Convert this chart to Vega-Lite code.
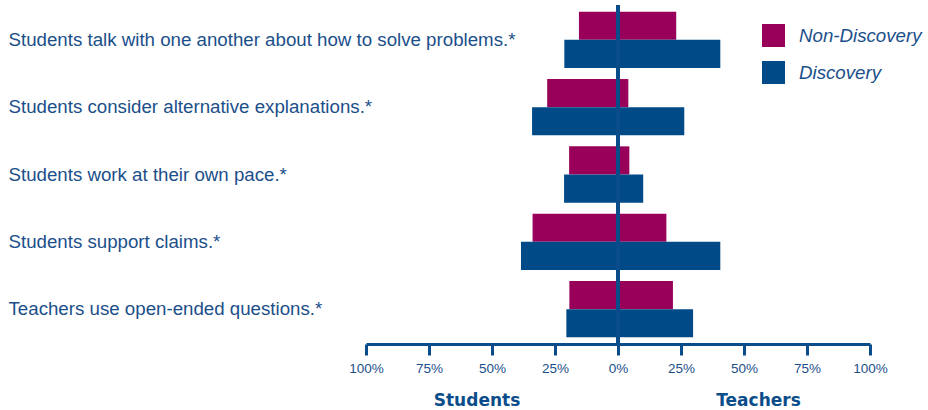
{
  "$schema": "https://vega.github.io/schema/vega-lite/v6.json",
  "width": 504,
  "height": 339,
  "autosize": {"type": "none"},
  "padding": {"left": 366, "top": 5, "right": 58, "bottom": 66},
  "background": "white",
  "config": {"view": {"stroke": null}, "font": "Liberation Sans"},
  "data": {
    "values": [
      {"question": "Students talk with one another about how to solve problems.*", "group": "Non-Discovery", "side": "Students", "value": -15.5},
      {"question": "Students talk with one another about how to solve problems.*", "group": "Non-Discovery", "side": "Teachers", "value": 23.1},
      {"question": "Students talk with one another about how to solve problems.*", "group": "Discovery", "side": "Students", "value": -21.3},
      {"question": "Students talk with one another about how to solve problems.*", "group": "Discovery", "side": "Teachers", "value": 40.6},
      {"question": "Students consider alternative explanations.*", "group": "Non-Discovery", "side": "Students", "value": -28.1},
      {"question": "Students consider alternative explanations.*", "group": "Non-Discovery", "side": "Teachers", "value": 4.1},
      {"question": "Students consider alternative explanations.*", "group": "Discovery", "side": "Students", "value": -34.1},
      {"question": "Students consider alternative explanations.*", "group": "Discovery", "side": "Teachers", "value": 26.3},
      {"question": "Students work at their own pace.*", "group": "Non-Discovery", "side": "Students", "value": -19.4},
      {"question": "Students work at their own pace.*", "group": "Non-Discovery", "side": "Teachers", "value": 4.5},
      {"question": "Students work at their own pace.*", "group": "Discovery", "side": "Students", "value": -21.4},
      {"question": "Students work at their own pace.*", "group": "Discovery", "side": "Teachers", "value": 10.0},
      {"question": "Students support claims.*", "group": "Non-Discovery", "side": "Students", "value": -33.9},
      {"question": "Students support claims.*", "group": "Non-Discovery", "side": "Teachers", "value": 19.2},
      {"question": "Students support claims.*", "group": "Discovery", "side": "Students", "value": -38.5},
      {"question": "Students support claims.*", "group": "Discovery", "side": "Teachers", "value": 40.6},
      {"question": "Teachers use open-ended questions.*", "group": "Non-Discovery", "side": "Students", "value": -19.3},
      {"question": "Teachers use open-ended questions.*", "group": "Non-Discovery", "side": "Teachers", "value": 21.8},
      {"question": "Teachers use open-ended questions.*", "group": "Discovery", "side": "Students", "value": -20.5},
      {"question": "Teachers use open-ended questions.*", "group": "Discovery", "side": "Teachers", "value": 29.8}
    ]
  },
  "layer": [
    {
      "mark": {"type": "bar"},
      "encoding": {
        "y": {
          "field": "question",
          "type": "nominal",
          "sort": [
            "Students talk with one another about how to solve problems.*",
            "Students consider alternative explanations.*",
            "Students work at their own pace.*",
            "Students support claims.*",
            "Teachers use open-ended questions.*"
          ],
          "scale": {"paddingInner": 0.164, "paddingOuter": 0.1},
          "axis": {
            "title": null,
            "ticks": false,
            "tickSize": 0,
            "domain": false,
            "labelAlign": "left",
            "labelBaseline": "middle",
            "labelPadding": 358,
            "labelFontSize": 18.7,
            "labelColor": "#1b4f8a",
            "labelLimit": 0
          }
        },
        "yOffset": {"field": "group", "sort": ["Non-Discovery", "Discovery"]},
        "x": {
          "field": "value",
          "type": "quantitative",
          "scale": {"domain": [-100, 100], "nice": false},
          "axis": {
            "values": [-100, -75, -50, -25, 0, 25, 50, 75, 100],
            "labelExpr": "abs(datum.value) + '%'",
            "labelFlush": false,
            "labelOverlap": false,
            "grid": false,
            "domainColor": "#0b4d8a",
            "domainWidth": 3,
            "tickColor": "#0b4d8a",
            "tickWidth": 3,
            "tickSize": 11,
            "labelFontSize": 13.5,
            "labelColor": "#1b4f8a",
            "labelPadding": 6,
            "title": "Students",
            "titleFont": "DejaVu Sans",
            "titleFontSize": 17,
            "titleFontWeight": "bold",
            "titleColor": "#0b4d8a",
            "titleX": 110.5,
            "titleY": 61,
            "titleAlign": "center",
            "titleBaseline": "alphabetic"
          }
        },
        "x2": {"datum": 0},
        "color": {
          "field": "group",
          "type": "nominal",
          "scale": {"domain": ["Non-Discovery", "Discovery"], "range": ["#990059", "#004b87"]},
          "legend": {
            "title": null,
            "orient": "none",
            "legendX": 396,
            "legendY": 19,
            "symbolType": "square",
            "symbolSize": 529,
            "symbolStrokeWidth": 0,
            "symbolOpacity": 1,
            "labelFontSize": 18.7,
            "labelFontStyle": "italic",
            "labelColor": "#1b4f8a",
            "labelOffset": 14,
            "rowPadding": 14
          }
        }
      }
    },
    {
      "mark": {"type": "rule", "color": "#0b4d8a", "strokeWidth": 3.5},
      "encoding": {
        "x": {
          "datum": 0,
          "axis": {
            "orient": "bottom",
            "labels": false,
            "ticks": false,
            "domain": false,
            "grid": false,
            "title": "Teachers",
            "titleFont": "DejaVu Sans",
            "titleFontSize": 17,
            "titleFontWeight": "bold",
            "titleColor": "#0b4d8a",
            "titleX": 392,
            "titleY": 61,
            "titleAlign": "center",
            "titleBaseline": "alphabetic"
          }
        }
      }
    }
  ],
  "resolve": {"axis": {"x": "independent"}}
}
